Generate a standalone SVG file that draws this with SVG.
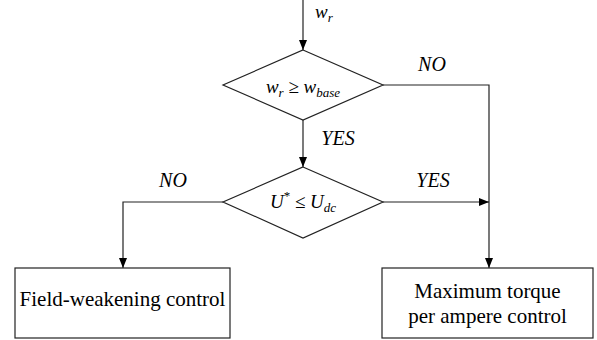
<svg xmlns="http://www.w3.org/2000/svg" width="597" height="340" viewBox="0 0 597 340">
<style>
.shape{fill:#fff;stroke:#222;stroke-width:1.2}
.conn{fill:none;stroke:#222;stroke-width:1.2}
text{font-family:'Liberation Serif','Times New Roman',serif;fill:#000}
.it{font-style:italic}
</style>
<defs>
<marker id="arr" markerWidth="10" markerHeight="8" refX="10" refY="4" orient="auto" markerUnits="userSpaceOnUse">
<path d="M0,0 L10,4 L0,8 Z" fill="#000"/>
</marker>
</defs>
<rect width="597" height="340" fill="#fff"/>
<g id="connectors">
<path class="conn" d="M303,0 V50" marker-end="url(#arr)"/>
<path class="conn" d="M303,120 V167" marker-end="url(#arr)"/>
<path class="conn" d="M383,85 H489 V268" marker-end="url(#arr)"/>
<path class="conn" d="M383,202 H489" marker-end="url(#arr)"/>
<path class="conn" d="M223,202 H123 V268" marker-end="url(#arr)"/>
</g>
<g id="input-label">
<text class="it" x="315" y="18" font-size="19">w<tspan font-size="13" dy="4">r</tspan></text>
</g>
<g id="decision1">
<polygon class="shape" points="303,50 383,85 303,120 223,85"/>
<text class="it" x="303" y="93" font-size="19" text-anchor="middle">w<tspan font-size="13" dy="4">r</tspan><tspan dy="-4" font-style="normal"> ≥ </tspan>w<tspan font-size="13" dy="4">base</tspan></text>
</g>
<g id="decision2">
<polygon class="shape" points="303,167 383,202 303,238 223,202"/>
<text class="it" x="303" y="208" font-size="19" text-anchor="middle">U<tspan font-size="13" dy="-8" font-style="normal">*</tspan><tspan dy="8" font-style="normal"> ≤ </tspan>U<tspan font-size="13" dy="4">dc</tspan></text>
</g>
<g id="labels">
<text class="it" x="432" y="71" font-size="20" text-anchor="middle">NO</text>
<text class="it" x="338" y="145" font-size="20" text-anchor="middle">YES</text>
<text class="it" x="173" y="187" font-size="20" text-anchor="middle">NO</text>
<text class="it" x="433" y="187" font-size="20" text-anchor="middle">YES</text>
</g>
<g id="field-weakening">
<rect class="shape" x="15" y="268" width="215" height="70"/>
<text x="122.5" y="306" font-size="21" text-anchor="middle">Field-weakening control</text>
</g>
<g id="mtpa">
<rect class="shape" x="382" y="268" width="211" height="70"/>
<text x="487.5" y="298" font-size="21" text-anchor="middle">Maximum torque</text>
<text x="487.5" y="323" font-size="21" text-anchor="middle">per ampere control</text>
</g>
</svg>
